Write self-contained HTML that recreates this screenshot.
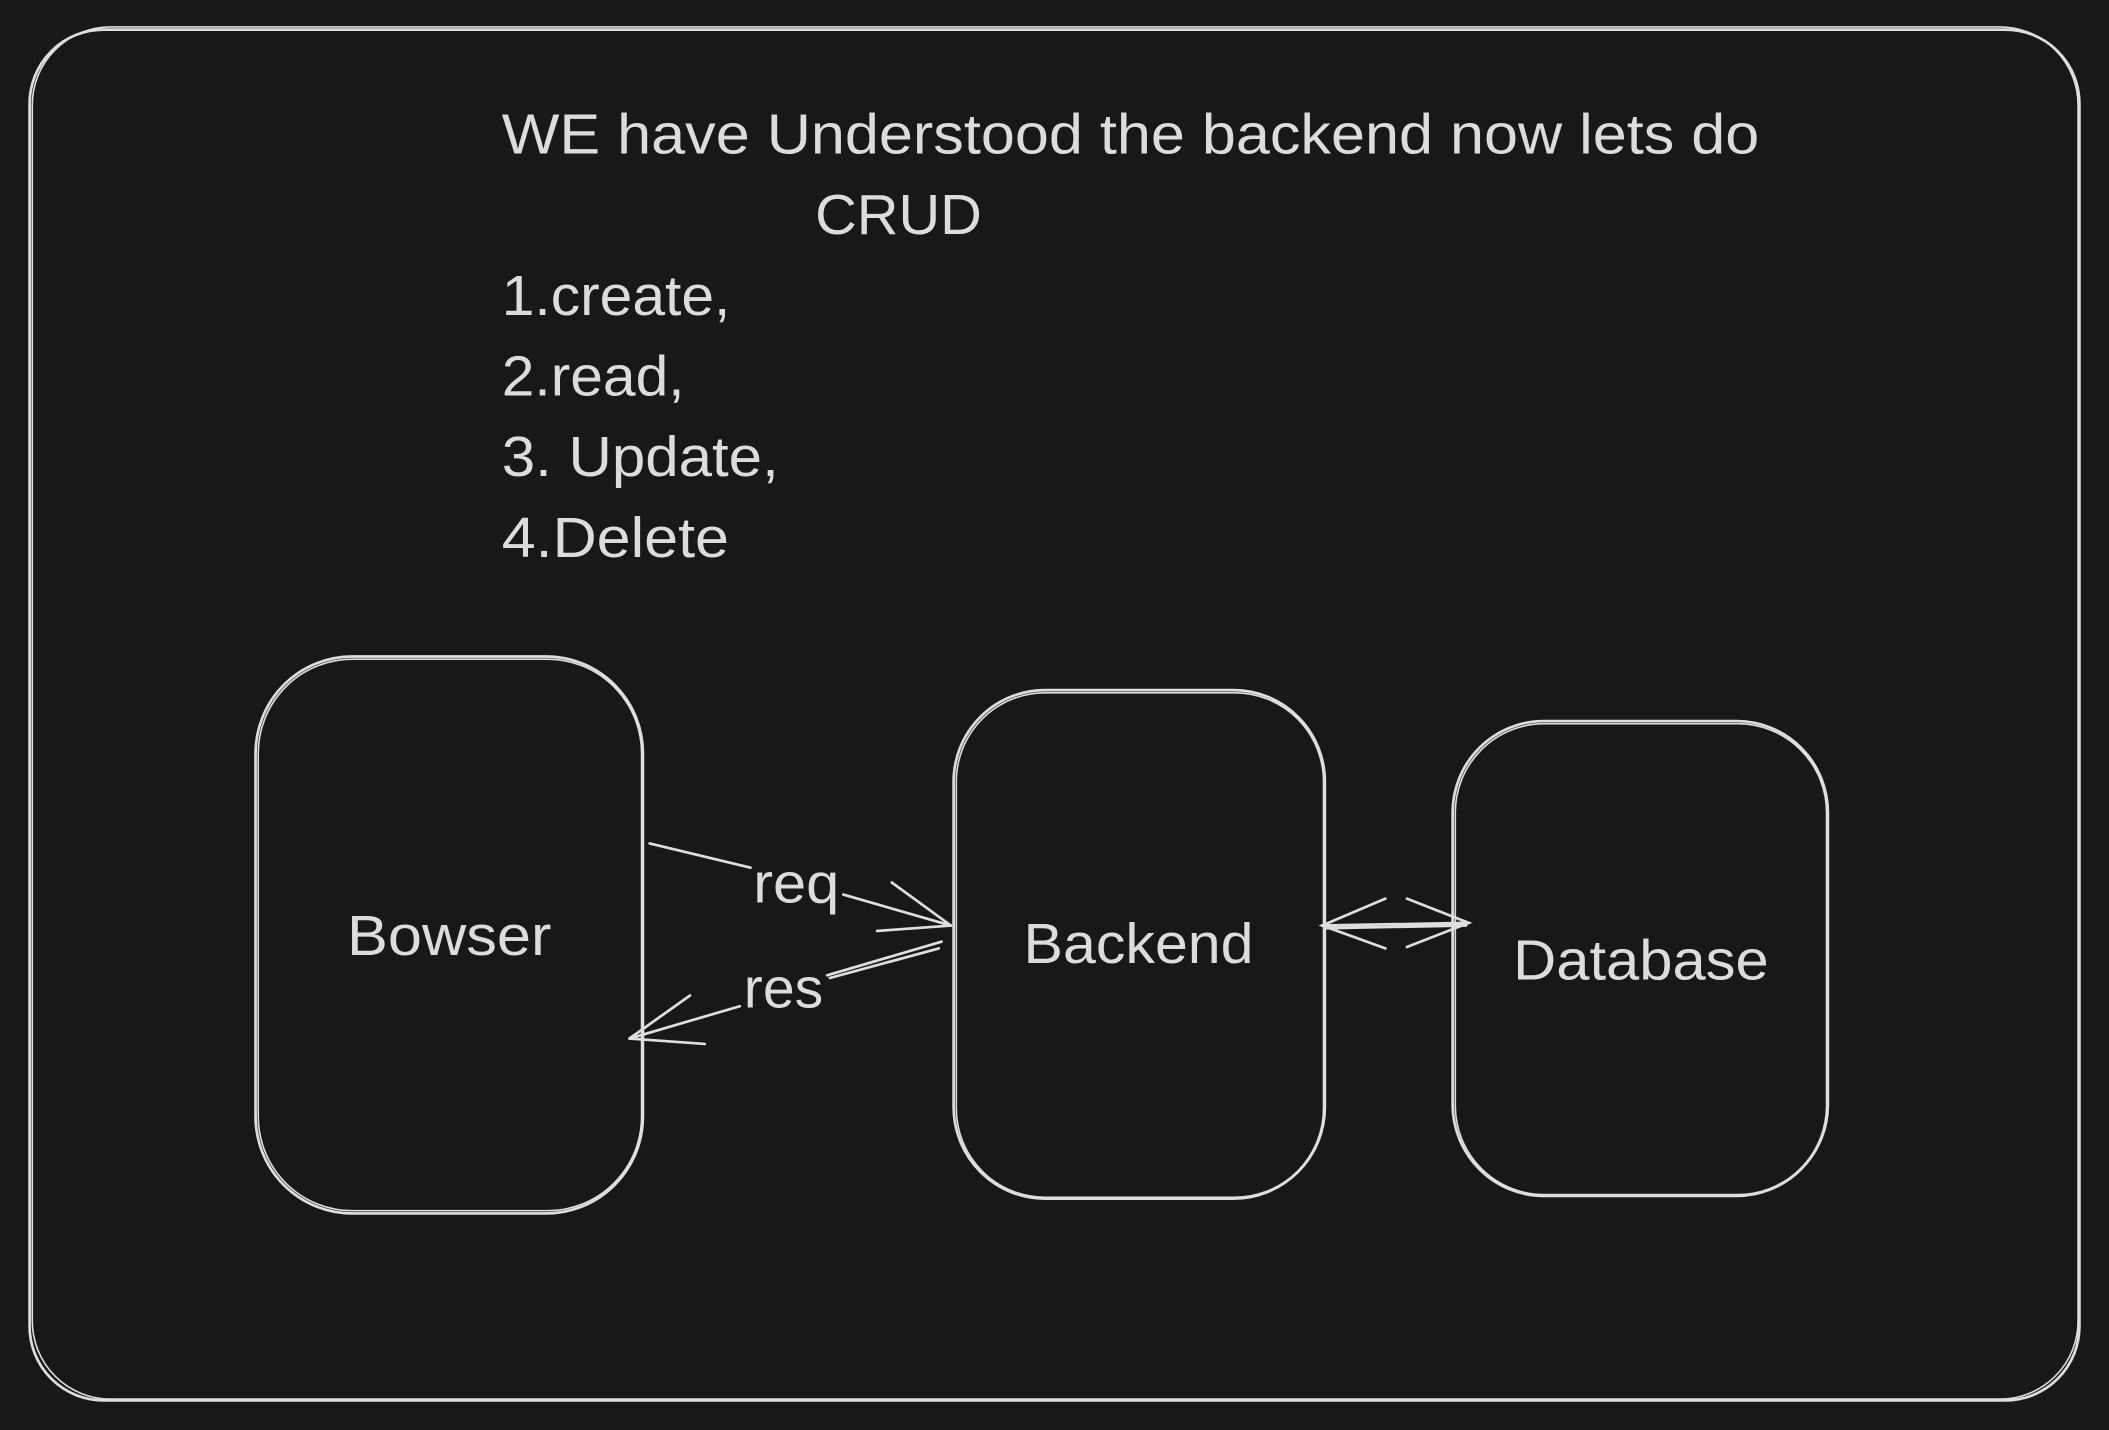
<!DOCTYPE html>
<html><head><meta charset="utf-8"><style>
html,body{margin:0;padding:0;background:#181818;}
svg{display:block;}
text{font-family:"Liberation Sans",sans-serif;fill:#dcdcdc;}
</style></head><body>
<svg width="2109" height="1430" viewBox="0 0 1568 1063" preserveAspectRatio="none" xmlns="http://www.w3.org/2000/svg">
<rect width="1568" height="1063" fill="#181818"/>
<g fill="none" stroke="#dedede" stroke-width="2" stroke-linecap="round">
<rect x="22" y="22" width="1524" height="1019" rx="55"/>
<rect x="24" y="20" width="1521" height="1020" rx="58" stroke-width="1.2"/>
<rect x="190" y="488" width="288" height="414" rx="72"/>
<rect x="192" y="490" width="285" height="410" rx="70" stroke-width="1.2"/>
<rect x="709" y="513" width="276" height="378" rx="68"/>
<rect x="711" y="515" width="273" height="375" rx="66" stroke-width="1.2"/>
<rect x="1080" y="536" width="279" height="353" rx="68"/>
<rect x="1082" y="538" width="276" height="350" rx="66" stroke-width="1.2"/>
<path d="M483 627 L558 645"/>
<path d="M627 665 L707 688"/>
<path d="M663 656 L707 688 M652 692 L707 688"/>
<path d="M700 700 L615 725 M698 705 L617 727"/>
<path d="M550 748 L468 772"/>
<path d="M513 740 L468 772 M524 776 L468 772"/>
<path d="M983 688 L1092 686 M985 690 L1090 688"/>
<path d="M1030 668 L983 688 L1030 705"/>
<path d="M1046 668 L1092 686 L1046 704"/>
</g>
<g font-size="42">
<text x="373" y="114" textLength="935" lengthAdjust="spacingAndGlyphs">WE have Understood the backend now lets do</text>
<text x="606" y="174" textLength="124" lengthAdjust="spacingAndGlyphs">CRUD</text>
<text x="373" y="234" textLength="170" lengthAdjust="spacingAndGlyphs">1.create,</text>
<text x="373" y="294" textLength="136" lengthAdjust="spacingAndGlyphs">2.read,</text>
<text x="373" y="354" textLength="206" lengthAdjust="spacingAndGlyphs">3. Update,</text>
<text x="373" y="414" textLength="169" lengthAdjust="spacingAndGlyphs">4.Delete</text>
<text x="258" y="710" textLength="152" lengthAdjust="spacingAndGlyphs">Bowser</text>
<text x="761" y="716" textLength="171" lengthAdjust="spacingAndGlyphs">Backend</text>
<text x="1125" y="728" textLength="190" lengthAdjust="spacingAndGlyphs">Database</text>
<text x="560" y="671" textLength="64" lengthAdjust="spacingAndGlyphs">req</text>
<text x="553" y="749" textLength="59" lengthAdjust="spacingAndGlyphs">res</text>
</g>
</svg>
</body></html>
